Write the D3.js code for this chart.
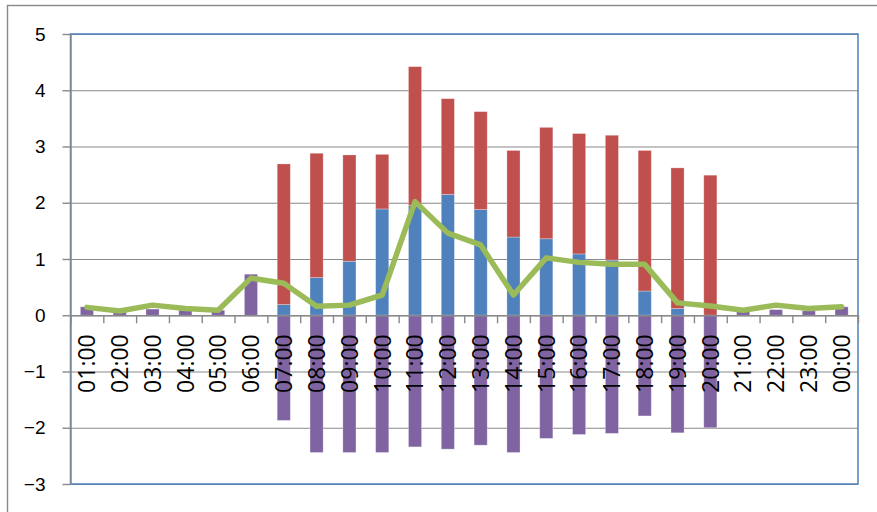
<!DOCTYPE html>
<html>
<head>
<meta charset="utf-8">
<script src="https://cdn.jsdelivr.net/npm/d3@7"></script>
<style>
  body { margin: 0; background: #fff; }
  svg { display: block; font-family: "Open Sans", sans-serif; }
  .grid line { stroke: #898989; stroke-width: 1.2; }
  .grid path { display: none; }
  .axis path, .axis line { stroke: #898989; stroke-width: 1.4; }
  .axis text { fill: #000; }
</style>
</head>
<body>
<div id="chart"></div>
<script>
// categories (hour of day)
var hours = ["01:00","02:00","03:00","04:00","05:00","06:00","07:00","08:00","09:00","10:00","11:00","12:00",
             "13:00","14:00","15:00","16:00","17:00","18:00","19:00","20:00","21:00","22:00","23:00","00:00"];

// stacked series
var blueVals   = [0, 0, 0, 0, 0, 0, 0.19, 0.67, 0.96, 1.89, 1.95, 2.15, 1.88, 1.39, 1.36, 1.09, 0.98, 0.43, 0.12, 0, 0, 0, 0, 0];
var redVals    = [0, 0, 0, 0, 0, 0, 2.50, 2.21, 1.89, 0.97, 2.47, 1.70, 1.74, 1.54, 1.98, 2.14, 2.22, 2.50, 2.50, 2.49, 0, 0, 0, 0];
var purpleVals = [0.15, 0.06, 0.11, 0.09, 0.09, 0.73, -1.87, -2.44, -2.44, -2.44, -2.34, -2.38, -2.31, -2.44, -2.19, -2.12, -2.10, -1.79, -2.09, -2.00, 0.09, 0.10, 0.08, 0.15];
// line series
var lineVals   = [0.14, 0.075, 0.18, 0.12, 0.09, 0.66, 0.57, 0.16, 0.18, 0.36, 2.02, 1.46, 1.25, 0.36, 1.02, 0.94, 0.905, 0.905, 0.22, 0.165, 0.09, 0.18, 0.12, 0.15];

var yTicks = [-3, -2, -1, 0, 1, 2, 3, 4, 5];

var W = 877, H = 512;
var plot = { left: 70.5, right: 858, top: 34, bottom: 484 };

var svg = d3.select("#chart").append("svg")
  .attr("width", W)
  .attr("height", H);

// chart area border
svg.append("rect")
  .attr("x", 7.5).attr("y", 5.5)
  .attr("width", 900).attr("height", 600)
  .attr("fill", "none")
  .attr("stroke", "#898989")
  .attr("stroke-width", 1.4);

var y = d3.scaleLinear().domain([-3, 5]).range([plot.bottom, plot.top]);
var x = d3.scaleBand().domain(hours).range([plot.left, plot.right])
  .paddingInner(0.6).paddingOuter(0.3);
var xb = d3.scaleLinear().domain([0, hours.length]).range([plot.left, plot.right]);

// gridlines
svg.append("g")
  .attr("class", "grid")
  .attr("transform", "translate(" + plot.left + ",0)")
  .call(d3.axisLeft(y).tickValues(yTicks).tickSize(-(plot.right - plot.left)).tickFormat(""));

// plot area border
svg.append("rect")
  .attr("x", plot.left).attr("y", plot.top)
  .attr("width", plot.right - plot.left).attr("height", plot.bottom - plot.top)
  .attr("fill", "none")
  .attr("stroke", "#4F81BD")
  .attr("stroke-width", 1.5);

// stacked bars
var rows = hours.map(function(h, i) {
  return { hour: h, blue: blueVals[i], red: redVals[i], purple: purpleVals[i] };
});
var colors = { blue: "#4F81BD", red: "#C0504D", purple: "#8064A2" };
var stack = d3.stack().keys(["blue", "red", "purple"]).offset(d3.stackOffsetDiverging);
var series = stack(rows);

svg.append("g").selectAll("g")
  .data(series)
  .enter().append("g")
    .attr("fill", function(s) { return colors[s.key]; })
  .selectAll("rect")
  .data(function(s) { return s.filter(function(d) { return d[1] !== d[0]; }); })
  .enter().append("rect")
    .attr("x", function(d) { return x(d.data.hour); })
    .attr("width", x.bandwidth())
    .attr("y", function(d) { return y(Math.max(d[0], d[1])); })
    .attr("height", function(d) { return Math.abs(y(d[0]) - y(d[1])); })
    .attr("stroke", "#fff")
    .attr("stroke-opacity", 0.35)
    .attr("stroke-width", 0.8);

// y axis
var gy = svg.append("g")
  .attr("class", "axis")
  .attr("transform", "translate(" + plot.left + ",0)")
  .call(d3.axisLeft(y).tickValues(yTicks).tickSizeInner(8).tickSizeOuter(0).tickPadding(17));
gy.selectAll("text").style("font-size", "19px");

// x axis line at zero with tick marks between categories
var gx = svg.append("g")
  .attr("class", "axis")
  .attr("transform", "translate(0," + y(0) + ")")
  .call(d3.axisBottom(xb).ticks(hours.length).tickSizeInner(8).tickSizeOuter(0).tickFormat(""));

// rotated category labels
svg.append("g").selectAll("text")
  .data(hours)
  .enter().append("text")
    .attr("transform", function(d) {
      return "translate(" + (x(d) + x.bandwidth() / 2) + "," + (y(0) + 19) + ") rotate(-90)";
    })
    .attr("text-anchor", "end")
    .attr("dy", "0.36em")
    .style("font-size", "23px")
    .text(function(d) { return d; });

// line series
var line = d3.line()
  .x(function(d, i) { return x(hours[i]) + x.bandwidth() / 2; })
  .y(function(d) { return y(d); });

svg.append("path")
  .datum(lineVals)
  .attr("d", line)
  .attr("fill", "none")
  .attr("stroke", "#9BBB59")
  .attr("stroke-width", 5.5)
  .attr("stroke-linejoin", "round")
  .attr("stroke-linecap", "round");
</script>
</body>
</html>
